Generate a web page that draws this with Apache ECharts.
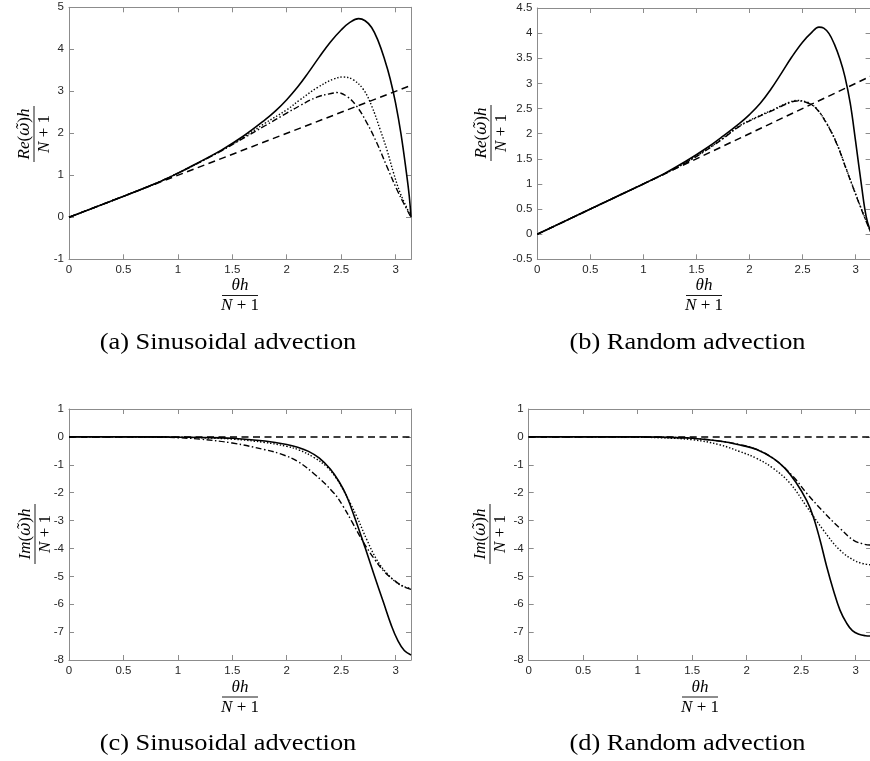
<!DOCTYPE html>
<html>
<head>
<meta charset="utf-8">
<script src="https://cdn.jsdelivr.net/npm/echarts@6/dist/echarts.min.js"></script>
<style>
html, body { margin: 0; padding: 0; background: #ffffff; }
#chart { width: 870px; height: 761px; }
</style>
</head>
<body>
<div id="chart"></div>
<script>
// ---- axis ticks ----
const xTicks = [0, 0.5, 1, 1.5, 2, 2.5, 3];
const xMax = 3.1416;
const reSinTicks = [-1, 0, 1, 2, 3, 4, 5];
const reRandTicks = [-0.5, 0, 0.5, 1, 1.5, 2, 2.5, 3, 3.5, 4, 4.5];
const imTicks = [-8, -7, -6, -5, -4, -3, -2, -1, 0, 1];

// ---- captions ----
const captions = [
  '(a) Sinusoidal advection',
  '(b) Random advection',
  '(c) Sinusoidal advection',
  '(d) Random advection'
];

// ---- (a) real part, sinusoidal advection ----
const reSinExact = [[0, 0], [3.1416, 3.1416]];
const reSinSolid = [[0,0],[0.4,0.4],[0.8,0.81],[1.0,1.05],[1.2,1.32],[1.4,1.6],[1.6,1.93],[1.8,2.32],
  [1.9,2.54],[2.0,2.8],[2.1,3.1],[2.2,3.45],[2.3,3.82],[2.4,4.17],[2.5,4.46],[2.58,4.64],[2.66,4.73],
  [2.72,4.68],[2.78,4.52],[2.84,4.2],[2.9,3.75],[2.95,3.3],[3.0,2.72],[3.05,1.98],[3.1,1.05],
  [3.125,0.52],[3.1416,0]];
const reSinDot = [[0,0],[0.4,0.4],[0.8,0.81],[1.0,1.05],[1.2,1.31],[1.4,1.59],[1.6,1.9],[1.8,2.24],
  [2.0,2.56],[2.123,2.8],[2.277,3.08],[2.429,3.29],[2.521,3.34],[2.613,3.27],[2.705,3.04],[2.782,2.64],
  [2.858,2.09],[2.92,1.61],[2.981,1.06],[3.042,0.58],[3.104,0.22],[3.1416,0]];
const reSinDashDot = [[0,0],[0.4,0.4],[0.8,0.81],[1.0,1.05],[1.2,1.31],[1.4,1.58],[1.6,1.88],[1.8,2.18],
  [2.0,2.48],[2.123,2.66],[2.277,2.86],[2.429,2.96],[2.46,2.97],[2.552,2.88],[2.644,2.64],[2.736,2.25],
  [2.828,1.77],[2.92,1.21],[3.012,0.66],[3.073,0.34],[3.1416,0]];

// ---- (b) real part, random advection ----
const reRandExact = [[0, 0], [3.1416, 3.1416]];
const reRandSolid = [[0,0],[0.5,0.5],[1.0,1.0],[1.2,1.21],[1.4,1.45],[1.6,1.72],[1.75,1.95],[1.909,2.21],
  [2.0,2.38],[2.1,2.6],[2.2,2.88],[2.3,3.2],[2.4,3.53],[2.5,3.82],[2.58,4.0],[2.655,4.12],[2.7,4.1],
  [2.75,3.99],[2.8,3.78],[2.853,3.48],[2.9,3.13],[2.95,2.6],[3.0,1.85],[3.057,0.95],[3.1,0.35],[3.1416,0.05]];
const reRandDot = [[0,0],[0.5,0.5],[1.0,1.0],[1.2,1.2],[1.4,1.43],[1.6,1.69],[1.75,1.91],[1.909,2.16],
  [2.068,2.33],[2.225,2.48],[2.382,2.63],[2.445,2.66],[2.539,2.63],[2.586,2.58],[2.633,2.5],[2.727,2.21],
  [2.822,1.81],[2.916,1.28],[3.01,0.75],[3.089,0.32],[3.1416,0.05]];
const reRandDashDot = [[0,0],[0.5,0.5],[1.0,1.0],[1.2,1.2],[1.4,1.42],[1.6,1.68],[1.75,1.9],[1.909,2.15],
  [2.068,2.32],[2.225,2.47],[2.382,2.62],[2.445,2.65],[2.539,2.62],[2.633,2.49],[2.727,2.2],[2.822,1.8],
  [2.916,1.27],[3.01,0.74],[3.089,0.31],[3.1416,0.05]];

// ---- (c) imaginary part, sinusoidal advection ----
const imSinExact = [[0, 0], [3.1416, 0]];
const imSinSolid = [[0,0],[0.8,0],[1.0,-0.01],[1.2,-0.02],[1.5,-0.05],[1.8,-0.15],[2.0,-0.27],[2.1,-0.37],
  [2.2,-0.52],[2.3,-0.76],[2.4,-1.15],[2.48,-1.6],[2.55,-2.12],[2.63,-2.95],[2.72,-3.97],[2.8,-4.92],
  [2.89,-5.95],[2.96,-6.75],[3.02,-7.3],[3.08,-7.66],[3.1416,-7.82]];
const imSinDot = [[0,0],[0.8,0],[1.0,-0.01],[1.2,-0.03],[1.5,-0.08],[1.8,-0.2],[2.0,-0.34],[2.12,-0.48],
  [2.25,-0.74],[2.368,-1.07],[2.45,-1.45],[2.52,-1.9],[2.58,-2.35],[2.644,-2.86],[2.736,-3.69],
  [2.828,-4.41],[2.92,-4.89],[3.042,-5.31],[3.1416,-5.43]];
const imSinDashDot = [[0,0],[0.6,0],[0.8,-0.01],[1.0,-0.03],[1.2,-0.08],[1.5,-0.22],[1.8,-0.46],
  [1.95,-0.62],[2.1,-0.88],[2.25,-1.32],[2.43,-2.0],[2.52,-2.5],[2.6,-3.05],[2.7,-3.75],[2.8,-4.35],
  [2.9,-4.85],[3.0,-5.18],[3.08,-5.38],[3.1416,-5.47]];

// ---- (d) imaginary part, random advection ----
const imRandExact = [[0, 0], [3.1416, 0]];
const imRandSolid = [[0,0],[1.0,0],[1.2,-0.01],[1.5,-0.05],[1.75,-0.15],[1.939,-0.29],[2.092,-0.45],
  [2.244,-0.77],[2.35,-1.12],[2.45,-1.62],[2.55,-2.28],[2.611,-2.86],[2.673,-3.7],[2.734,-4.65],
  [2.795,-5.49],[2.856,-6.21],[2.917,-6.68],[2.97,-6.95],[3.03,-7.08],[3.09,-7.13],[3.1416,-7.14]];
const imRandDot = [[0,0],[0.8,0],[1.0,-0.01],[1.2,-0.03],[1.5,-0.1],[1.75,-0.28],[1.939,-0.53],
  [2.092,-0.77],[2.244,-1.13],[2.397,-1.66],[2.55,-2.5],[2.703,-3.34],[2.856,-4.06],[3.009,-4.47],
  [3.1416,-4.59]];
const imRandDashDot = [[0,0],[1.0,0],[1.2,-0.01],[1.5,-0.05],[1.75,-0.15],[1.939,-0.28],[2.092,-0.45],
  [2.244,-0.77],[2.428,-1.43],[2.55,-2.02],[2.703,-2.68],[2.856,-3.28],[2.978,-3.7],[3.07,-3.84],
  [3.1416,-3.88]];

// ---- layout of the four panels ----
const panels = [
  { grid: { left: 69, top: 7.3, width: 342, height: 252 }, yTicks: reSinTicks,
    curves: [reSinExact, reSinSolid, reSinDot, reSinDashDot] },
  { grid: { left: 537.3, top: 8, width: 333.3, height: 251.3 }, yTicks: reRandTicks,
    curves: [reRandExact, reRandSolid, reRandDot, reRandDashDot] },
  { grid: { left: 69, top: 409, width: 342, height: 251 }, yTicks: imTicks,
    curves: [imSinExact, imSinSolid, imSinDot, imSinDashDot] },
  { grid: { left: 528.7, top: 409, width: 342.4, height: 251 }, yTicks: imTicks,
    curves: [imRandExact, imRandSolid, imRandDot, imRandDashDot] }
];

const BOX = '#8c8c8c';
const TICKTXT = '#262626';
const SANS = '"Liberation Sans", Arial, sans-serif';
const SERIF = '"Liberation Serif", "Times New Roman", serif';
const MARKSERIF = '"DejaVu Serif", serif';

// line styles: exact (dashed), solid, dotted, dash-dot
const styles = [
  { type: [7, 4.5], width: 1.5 },
  { type: 'solid', width: 1.6 },
  { type: [1.4, 1.9], width: 1.4 },
  { type: [6, 2.5, 1.5, 2.5], width: 1.4 }
];

function xLabel(v) {
  const t = xTicks.find(t => Math.abs(t - v) < 1e-6);
  return t === undefined ? '' : String(t);
}

const grids = [], xAxes = [], yAxes = [], series = [];
panels.forEach(p => {
  grids.push(Object.assign({ outerBoundsMode: 'none', containLabel: false }, p.grid));
});
// bottom / left axes with labels
panels.forEach((p, i) => {
  xAxes.push({
    type: 'value', gridIndex: i, min: 0, max: xMax, interval: 0.5, position: 'bottom',
    axisLine: { show: true, onZero: false, lineStyle: { color: BOX, width: 1 } },
    axisTick: { show: true, inside: true, length: 5, lineStyle: { color: BOX } },
    axisLabel: { color: TICKTXT, fontSize: 11.5, fontFamily: SANS, margin: 5, formatter: xLabel },
    splitLine: { show: false }
  });
  const yt = p.yTicks;
  yAxes.push({
    type: 'value', gridIndex: i, min: yt[0], max: yt[yt.length - 1], interval: yt[1] - yt[0], position: 'left',
    axisLine: { show: true, onZero: false, lineStyle: { color: BOX, width: 1 } },
    axisTick: { show: true, inside: true, length: 5, lineStyle: { color: BOX } },
    axisLabel: { color: TICKTXT, fontSize: 11.5, fontFamily: SANS, margin: 5 },
    splitLine: { show: false }
  });
});
// top / right box axes, ticks only
panels.forEach((p, i) => {
  xAxes.push({
    type: 'value', gridIndex: i, min: 0, max: xMax, interval: 0.5, position: 'top',
    axisLine: { show: true, onZero: false, lineStyle: { color: BOX, width: 1 } },
    axisTick: { show: true, inside: true, length: 5, lineStyle: { color: BOX } },
    axisLabel: { show: false }, splitLine: { show: false }
  });
  const yt = p.yTicks;
  yAxes.push({
    type: 'value', gridIndex: i, min: yt[0], max: yt[yt.length - 1], interval: yt[1] - yt[0], position: 'right',
    axisLine: { show: true, onZero: false, lineStyle: { color: BOX, width: 1 } },
    axisTick: { show: true, inside: true, length: 5, lineStyle: { color: BOX } },
    axisLabel: { show: false }, splitLine: { show: false }
  });
});
panels.forEach((p, i) => {
  p.curves.forEach((data, k) => {
    series.push({
      type: 'line', xAxisIndex: i, yAxisIndex: i, data: data,
      symbol: 'none', showSymbol: false, smooth: k === 0 ? false : 0.4,
      lineStyle: { color: '#000000', width: styles[k].width, type: styles[k].type, cap: 'butt' },
      silent: true, animation: false, z: 2 + k
    });
  });
});

// fraction labels drawn as text + rule
const FS = 17;
const rich = {
  i: { font: 'italic ' + FS + 'px ' + SERIF, fill: '#000' },
  u: { font: FS + 'px ' + SERIF, fill: '#000' },
  w: { font: 'italic ' + (FS - 1) + 'px ' + MARKSERIF, fill: '#000' }
};
function fraction(cx, cy, numText, ruleLen, rotated) {
  return {
    type: 'group', x: cx, y: cy, rotation: rotated ? Math.PI / 2 : 0, silent: true,
    children: [
      { type: 'text', x: 0, y: -9.5, style: { text: numText, rich: rich, align: 'center', verticalAlign: 'middle' } },
      { type: 'line', shape: { x1: -ruleLen / 2, y1: 0, x2: ruleLen / 2, y2: 0 }, style: { stroke: '#000', lineWidth: 0.9 } },
      { type: 'text', x: 0, y: 10.5, style: { text: '{i|N}{u| + 1}', rich: rich, align: 'center', verticalAlign: 'middle' } }
    ]
  };
}
const thetaNum = '{i|θh}';
const reNum = '{i|Re}{u|(}{w|ω̃}{u|)}{i|h}';
const imNum = '{i|Im}{u|(}{w|ω̃}{u|)}{i|h}';

const graphics = [];
// horizontal-axis names
[[240, 295.5], [704, 295.5], [240, 697], [700, 697]].forEach(c => {
  graphics.push(fraction(c[0], c[1], thetaNum, 36, false));
});
// vertical-axis names
graphics.push(fraction(34, 134, reNum, 56, true));
graphics.push(fraction(491, 133, reNum, 56, true));
graphics.push(fraction(35, 534, imNum, 60, true));
graphics.push(fraction(490, 534, imNum, 60, true));
// captions
[[228, 343], [687.5, 343], [228, 743.5], [687.5, 743.5]].forEach((c, i) => {
  graphics.push({
    type: 'text', x: c[0], y: c[1], scaleX: 1.1, silent: true,
    style: { text: captions[i], font: '24px ' + SERIF, fill: '#000', align: 'center', verticalAlign: 'middle' }
  });
});

const chart = echarts.init(document.getElementById('chart'), null, { renderer: 'canvas' });
chart.setOption({
  backgroundColor: '#ffffff',
  animation: false,
  grid: grids,
  xAxis: xAxes,
  yAxis: yAxes,
  series: series,
  graphic: graphics
});
</script>
</body>
</html>
